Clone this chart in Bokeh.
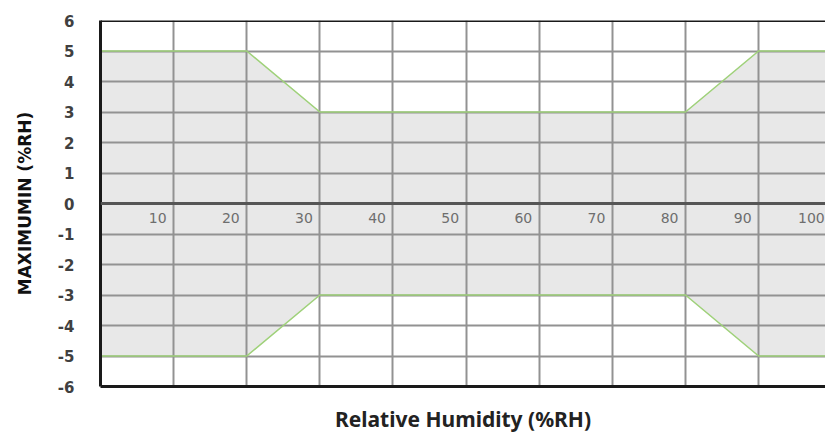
from bokeh.plotting import figure
from bokeh.models import Range1d, FixedTicker, Span, ColumnDataSource
from bokeh.core.properties import value
from bokeh.embed import file_html
from bokeh.resources import INLINE

# data
humidity = [0, 20, 30, 80, 90, 100]
upper = [5, 5, 3, 3, 5, 5]
lower = [-5, -5, -3, -3, -5, -5]
x_ticks = [10, 20, 30, 40, 50, 60, 70, 80, 90, 100]
x_tick_labels = [str(t) for t in x_ticks]
y_ticks = [-6, -5, -4, -3, -2, -1, 0, 1, 2, 3, 4, 5, 6]
y_tick_labels = {t: str(t) for t in y_ticks}

p = figure(width=825, height=435, output_backend="svg", toolbar_location=None,
           x_range=Range1d(0, 99.15), y_range=Range1d(-6, 6),
           min_border_left=100, min_border_right=0, min_border_top=20,
           min_border_bottom=45)
p.outline_line_color = None
p.background_fill_color = "white"

# band
p.varea(x=humidity, y1=lower, y2=upper, fill_color="#e8e8e8", level="image")

# grid
p.xgrid.ticker = FixedTicker(ticks=x_ticks)
p.ygrid.ticker = FixedTicker(ticks=y_ticks)
p.xgrid.grid_line_color = "#929292"
p.ygrid.grid_line_color = "#929292"
p.xgrid.grid_line_width = 2
p.ygrid.grid_line_width = 2
p.xgrid.level = "underlay"
p.ygrid.level = "underlay"

p.line(humidity, upper, line_color="#9fd17a", line_width=1.6, level="glyph")
p.line(humidity, lower, line_color="#9fd17a", line_width=1.6, level="glyph")

p.add_layout(Span(location=0, dimension="width", line_color="#555555", line_width=3, level="overlay"))
p.add_layout(Span(location=6, dimension="width", line_color="#1a1a1a", line_width=3, level="overlay"))

# x tick labels placed inside the plot under the zero line
src = ColumnDataSource(dict(x=x_ticks, y=[0] * len(x_ticks), t=x_tick_labels))
p.text(x="x", y="y", text="t", source=src, text_align="right", text_baseline="top",
       x_offset=-7, y_offset=9, text_font=value("DejaVu Sans"), text_font_size="14px",
       text_color="#6e6e6e", level="overlay")

# y axis
ya = p.yaxis[0]
ya.ticker = FixedTicker(ticks=y_ticks)
ya.major_label_overrides = y_tick_labels
ya.axis_line_color = "#1a1a1a"
ya.axis_line_width = 3
ya.major_tick_line_color = None
ya.minor_tick_line_color = None
ya.major_label_standoff = 20
ya.major_label_text_font = "DejaVu Sans"
ya.major_label_text_font_style = "bold"
ya.major_label_text_font_size = "15px"
ya.major_label_text_color = "#404040"
ya.axis_label = "MAXIMUMIN (%RH)"
ya.axis_label_text_font = "DejaVu Sans"
ya.axis_label_text_font_style = "bold"
ya.axis_label_text_font_size = "17px"
ya.axis_label_text_color = "#111111"
ya.axis_label_standoff = 20

xa = p.xaxis[0]
xa.ticker = FixedTicker(ticks=[])
xa.axis_line_color = "#1a1a1a"
xa.axis_line_width = 3
xa.major_tick_line_color = None
xa.minor_tick_line_color = None
xa.major_label_text_font_size = "0px"
xa.axis_label = "Relative Humidity (%RH)"
xa.axis_label_text_font = "Noto Sans"
xa.axis_label_text_font_style = "bold"
xa.axis_label_text_font_size = "21px"
xa.axis_label_text_color = "#222222"
xa.axis_label_standoff = 18

open("out.html", "w").write(file_html(p, INLINE))
